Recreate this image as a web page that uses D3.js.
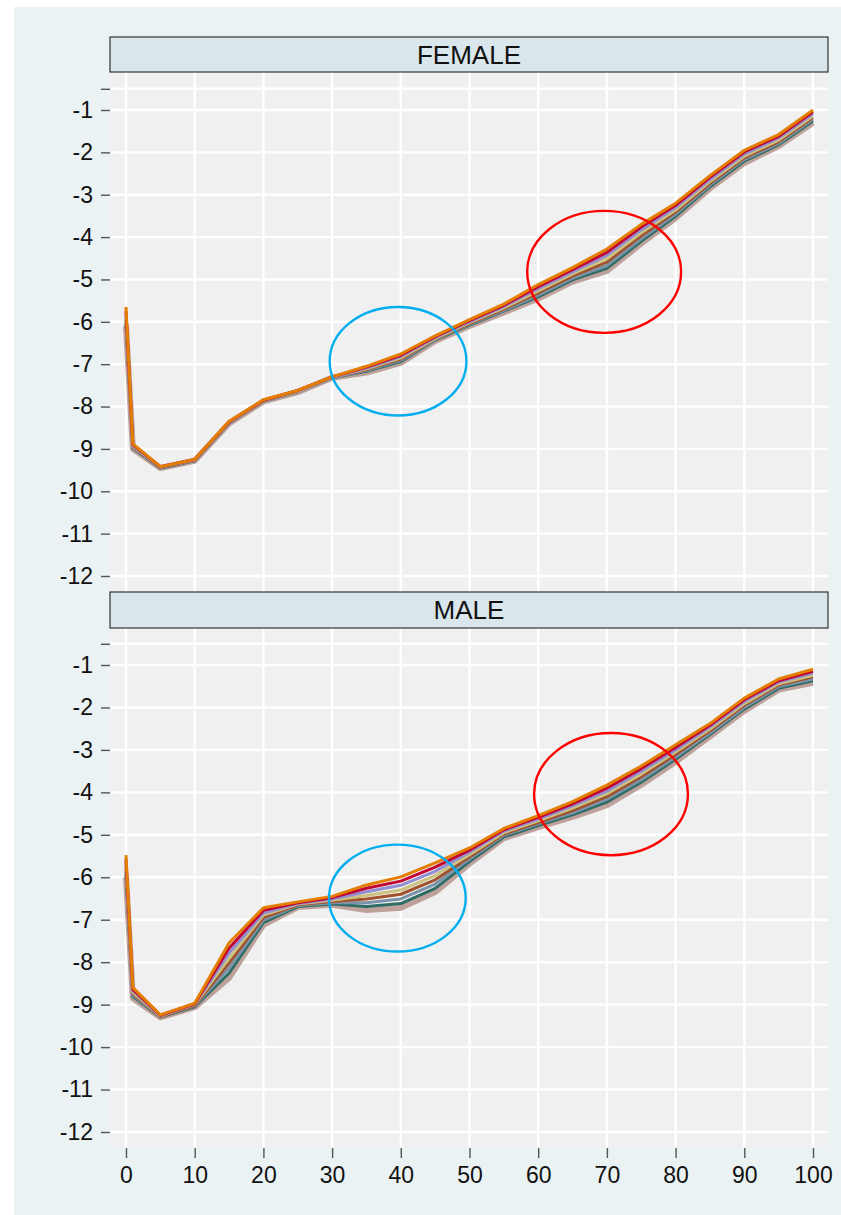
<!DOCTYPE html>
<html><head><meta charset="utf-8">
<script src="https://cdn.jsdelivr.net/npm/d3@7"></script>
<style>body{margin:0;background:#fff}svg{display:block}</style>
</head><body>
<svg id="c" width="841" height="1215"></svg>
<script>
const ages = [0,1,5,10,15,20,25,30,35,40,45,50,55,60,65,70,75,80,85,90,95,100];
const xTicks = [0,10,20,30,40,50,60,70,80,90,100];
const yTicks = [-1,-2,-3,-4,-5,-6,-7,-8,-9,-10,-11,-12];
const yExtraTick = -0.5;
const panels = ["FEMALE","MALE"];
const seriesColors = ["#e37e00","#c10534","#938dd2","#cac27e","#a0522d","#7b92a8","#2d6d66","#bfa19c"];

const female = [
 [-5.65,-8.88,-9.42,-9.25,-8.35,-7.84,-7.62,-7.30,-7.05,-6.76,-6.33,-5.95,-5.58,-5.12,-4.72,-4.28,-3.70,-3.20,-2.55,-1.95,-1.58,-1.00],
 [-5.75,-8.90,-9.42,-9.25,-8.36,-7.85,-7.62,-7.30,-7.07,-6.79,-6.35,-5.97,-5.61,-5.17,-4.77,-4.36,-3.76,-3.25,-2.59,-1.99,-1.62,-1.04],
 [-5.82,-8.92,-9.43,-9.26,-8.37,-7.85,-7.63,-7.31,-7.09,-6.82,-6.37,-6.00,-5.64,-5.22,-4.82,-4.43,-3.83,-3.30,-2.64,-2.04,-1.66,-1.09],
 [-5.90,-8.94,-9.43,-9.26,-8.37,-7.86,-7.64,-7.31,-7.11,-6.85,-6.39,-6.02,-5.67,-5.27,-4.87,-4.51,-3.90,-3.36,-2.69,-2.09,-1.71,-1.14],
 [-5.95,-8.95,-9.44,-9.27,-8.38,-7.86,-7.64,-7.31,-7.13,-6.88,-6.40,-6.04,-5.70,-5.32,-4.92,-4.59,-3.97,-3.41,-2.73,-2.13,-1.75,-1.18],
 [-6.00,-8.97,-9.44,-9.27,-8.39,-7.87,-7.65,-7.32,-7.15,-6.91,-6.42,-6.06,-5.73,-5.37,-4.97,-4.67,-4.04,-3.46,-2.77,-2.17,-1.79,-1.22],
 [-6.05,-8.98,-9.45,-9.28,-8.39,-7.87,-7.65,-7.32,-7.17,-6.94,-6.43,-6.08,-5.75,-5.41,-5.01,-4.74,-4.10,-3.51,-2.81,-2.21,-1.82,-1.26],
 [-6.10,-9.00,-9.45,-9.28,-8.40,-7.88,-7.66,-7.32,-7.20,-6.97,-6.45,-6.10,-5.78,-5.45,-5.05,-4.80,-4.15,-3.55,-2.85,-2.25,-1.85,-1.30]
];
const male = [
 [-5.48,-8.60,-9.24,-8.97,-7.55,-6.72,-6.58,-6.45,-6.18,-5.99,-5.66,-5.31,-4.85,-4.55,-4.22,-3.83,-3.38,-2.88,-2.38,-1.78,-1.33,-1.10],
 [-5.58,-8.64,-9.25,-8.98,-7.67,-6.78,-6.60,-6.48,-6.26,-6.09,-5.76,-5.36,-4.88,-4.59,-4.27,-3.90,-3.44,-2.94,-2.42,-1.82,-1.37,-1.15],
 [-5.65,-8.67,-9.26,-8.99,-7.79,-6.84,-6.62,-6.51,-6.34,-6.19,-5.86,-5.41,-4.91,-4.63,-4.32,-3.97,-3.50,-3.00,-2.46,-1.86,-1.40,-1.19],
 [-5.73,-8.71,-9.27,-9.00,-7.91,-6.89,-6.63,-6.54,-6.43,-6.30,-5.96,-5.47,-4.95,-4.67,-4.37,-4.03,-3.57,-3.05,-2.51,-1.91,-1.44,-1.24],
 [-5.80,-8.74,-9.28,-9.02,-8.02,-6.95,-6.65,-6.57,-6.51,-6.40,-6.06,-5.52,-4.98,-4.71,-4.43,-4.10,-3.63,-3.11,-2.55,-1.95,-1.47,-1.28],
 [-5.87,-8.78,-9.28,-9.03,-8.14,-7.01,-6.67,-6.60,-6.60,-6.51,-6.16,-5.57,-5.01,-4.74,-4.48,-4.16,-3.70,-3.17,-2.60,-2.00,-1.51,-1.33],
 [-5.94,-8.81,-9.29,-9.05,-8.26,-7.07,-6.69,-6.63,-6.69,-6.62,-6.26,-5.63,-5.05,-4.78,-4.53,-4.23,-3.76,-3.22,-2.64,-2.04,-1.55,-1.37],
 [-6.00,-8.85,-9.30,-9.06,-8.37,-7.12,-6.70,-6.65,-6.77,-6.72,-6.35,-5.68,-5.08,-4.82,-4.58,-4.30,-3.82,-3.28,-2.68,-2.08,-1.58,-1.42]
];
const panelData = [female, male];
// annotation ellipses: [age centre, value centre, age radius, value radius, colour]
const femaleEllipses = [[39.6,-6.93,9.95,1.28,"#00aeef"],[69.6,-4.82,11.2,1.44,"#ff0000"]];
const maleEllipses = [[39.5,-6.49,9.95,1.26,"#00aeef"],[70.6,-4.04,11.2,1.44,"#ff0000"]];
const panelEllipses = [femaleEllipses, maleEllipses];

const svg = d3.select("#c");
const font = "'Liberation Sans', Arial, sans-serif";
svg.append("rect").attr("x",14).attr("y",7).attr("width",827).attr("height",1208).attr("fill","#eaf2f3");

const x = d3.scaleLinear().domain([0,100]).range([126,813]);
const layout = [
  {hTop:37, hBot:72, pBot:592, y1:110, y12:576},
  {hTop:592, hBot:628, pBot:1147, y1:665, y12:1132}
];
const L = 110, R = 828;

panels.forEach((name,pi)=>{
  const lo = layout[pi];
  const y = d3.scaleLinear().domain([-1,-12]).range([lo.y1, lo.y12]);
  const g = svg.append("g");
  g.append("rect").attr("x",L).attr("y",lo.hBot).attr("width",R-L).attr("height",lo.pBot-lo.hBot).attr("fill","#f0f0f0");
  const gy = yTicks.concat([yExtraTick]);
  g.selectAll(".gh").data(gy).join("line")
    .attr("x1",L).attr("x2",R).attr("y1",d=>y(d)).attr("y2",d=>y(d))
    .attr("stroke","#ffffff").attr("stroke-width",2.4);
  g.selectAll(".gv").data(xTicks).join("line")
    .attr("x1",d=>x(d)).attr("x2",d=>x(d)).attr("y1",lo.hBot).attr("y2",lo.pBot)
    .attr("stroke","#ffffff").attr("stroke-width",2.4);
  const ax = d3.axisLeft(y).tickValues(gy).tickSize(9).tickPadding(8)
    .tickFormat(d=> d===yExtraTick ? "" : String(d));
  const ag = g.append("g").attr("transform",`translate(${L},0)`).call(ax);
  ag.select(".domain").remove();
  ag.selectAll(".tick line").attr("stroke","#555").attr("stroke-width",1.4);
  ag.selectAll(".tick text").attr("font-family",font).attr("font-size",23).attr("fill","#111");
  g.append("rect").attr("x",L).attr("y",lo.hTop).attr("width",R-L).attr("height",lo.hBot-lo.hTop)
    .attr("fill","#d9e6eb").attr("stroke","#333").attr("stroke-width",1.2);
  g.append("text").attr("x",(L+R)/2).attr("y",(lo.hTop+lo.hBot)/2).attr("dy","0.36em")
    .attr("text-anchor","middle").attr("font-family",font).attr("font-size",26).attr("fill","#111").text(name);
  const line = d3.line().x((d,i)=>x(ages[i])).y(d=>y(d));
  const data = panelData[pi];
  const order = d3.range(data.length).reverse();
  order.forEach(si=>{
    g.append("path").attr("d",line(data[si])).attr("fill","none")
      .attr("stroke",seriesColors[si]).attr("stroke-width", si===data.length-1 ? 6 : 3)
      .attr("stroke-linejoin","round");
  });
  g.selectAll(".el").data(panelEllipses[pi]).join("ellipse")
    .attr("cx",d=>x(d[0])).attr("cy",d=>y(d[1]))
    .attr("rx",d=>x(d[0]+d[2])-x(d[0])).attr("ry",d=>y(d[1]-d[3])-y(d[1]))
    .attr("fill","none").attr("stroke",d=>d[4]).attr("stroke-width",2.4);
});

const xa = d3.axisBottom(x).tickValues(xTicks).tickSize(10).tickPadding(9);
const xg = svg.append("g").attr("transform","translate(0,1148)").call(xa);
xg.select(".domain").remove();
xg.selectAll(".tick line").attr("stroke","#555").attr("stroke-width",1.4);
xg.selectAll(".tick text").attr("font-family",font).attr("font-size",23).attr("fill","#111");
</script>
</body></html>
